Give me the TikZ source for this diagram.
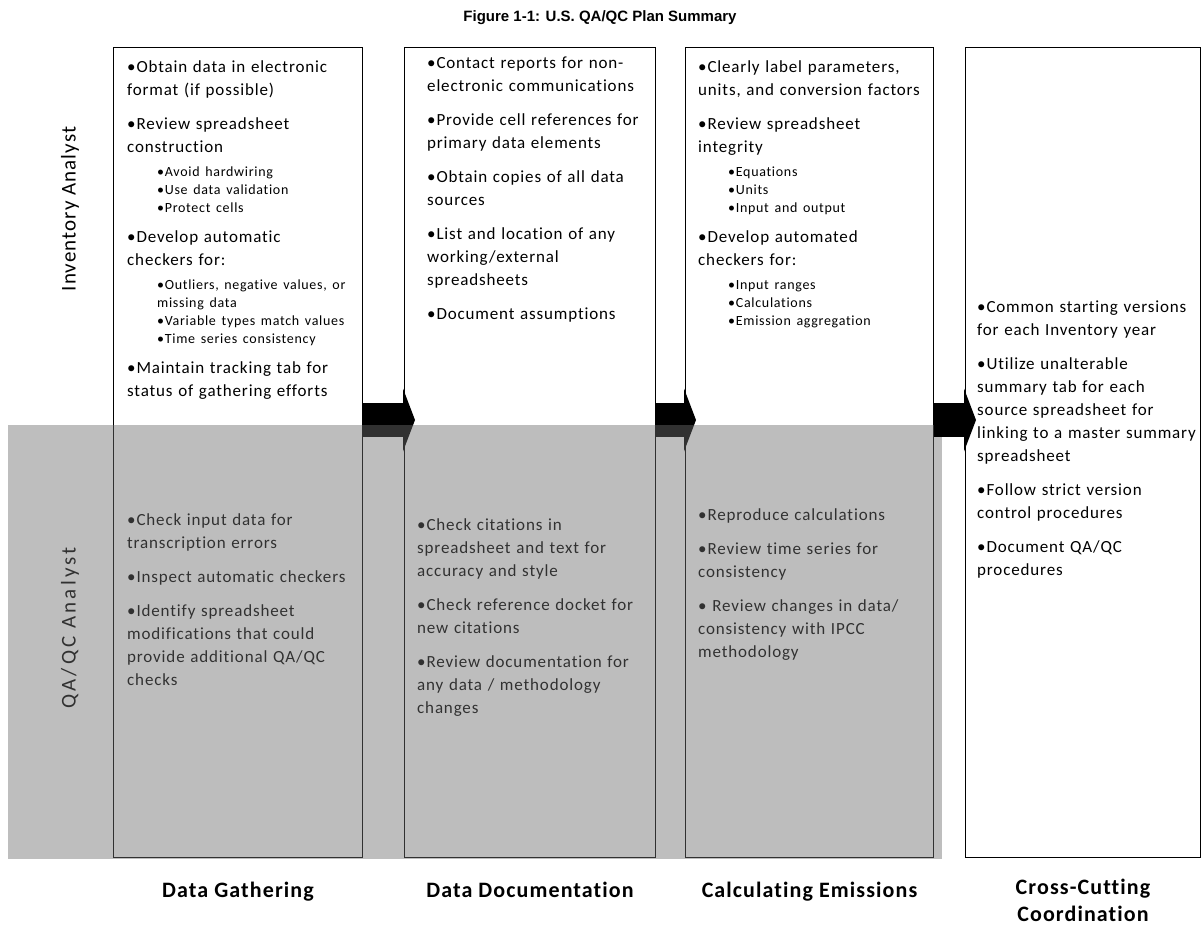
\documentclass[tikz,border=0pt]{standalone}
\usepackage{fontspec}
\setmainfont{Carlito}[LetterSpace=5, Ligatures=NoCommon]
\newfontfamily\headfont{Liberation Sans}
\usetikzlibrary{positioning, calc, arrows.meta}
\definecolor{bandGray}{RGB}{110,110,110}
\newcommand{\subitems}[1]{{\fontsize{14}{18}\selectfont\leftskip=30pt\parskip=6pt #1\par}\vspace{-4pt}}

\begin{document}
\begin{tikzpicture}[x=1pt, y=-1pt,
    lane/.style={rectangle, draw=black, line width=1pt, fill=white, anchor=north west,
                 minimum height=810pt, inner sep=0pt},
    body/.style={anchor=north west, inner sep=0pt, text width=290pt, align=left,
                 font={\fontsize{17}{23}\selectfont\parskip=11pt}},
    phase/.style={font={\fontsize{22}{27}\selectfont\bfseries}, align=center, inner sep=0pt},
    role/.style={font={\fontsize{21}{25}\selectfont}, rotate=90, inner sep=0pt},
    flow/.style={line width=34pt, -{Triangle[length=12pt 0 0, width=63pt 0 0, line width=0pt 0 0]}},
    band/.style={fill=bandGray, fill opacity=0.45, draw=none}
]
    \useasboundingbox (0,0) rectangle (1202,926);

    % Title
    \node[font={\headfont\bfseries\fontsize{15}{18}\selectfont}, inner sep=0pt] (title) at (600,18) {Figure 1-1: U.S. QA/QC Plan Summary};

    % Phase lanes
    \node[lane, minimum width=249pt] (dg) at (113,47) {};
    \node[lane, minimum width=251pt] (dd) at (404,47) {};
    \node[lane, minimum width=248pt] (ce) at (685,47) {};
    \coordinate (ay) at (0,420);

    % Inventory analyst tasks
    \node[body] (dgtop) at (127,60) {%
        •Obtain data in electronic\\format (if possible)\par
        •Review spreadsheet\\construction\par
        \subitems{•Avoid hardwiring\\•Use data validation\\•Protect cells}
        •Develop automatic\\checkers for:\par
        \subitems{•Outliers, negative values, or\\missing data\\•Variable types match values\\•Time series consistency}
        •Maintain tracking tab for\\status of gathering efforts};
    \node[body] (ddtop) at (427,57) {%
        •Contact reports for non-\\electronic communications\par
        •Provide cell references for\\primary data elements\par
        •Obtain copies of all data\\sources\par
        •List and location of any\\working/external\\spreadsheets\par
        •Document assumptions};
    \node[body] (cetop) at (698,60) {%
        •Clearly label parameters,\\units, and conversion factors\par
        •Review spreadsheet\\integrity\par
        \subitems{•Equations\\•Units\\•Input and output}
        •Develop automated\\checkers for:\par
        \subitems{•Input ranges\\•Calculations\\•Emission aggregation}};

    % QA/QC analyst tasks
    \node[body] (dglow) at (127,513) {%
        •Check input data for\\transcription errors\par
        •Inspect automatic checkers\par
        •Identify spreadsheet\\modifications that could\\provide additional QA/QC\\checks};
    \node[body] (ddlow) at (417,518) {%
        •Check citations in\\spreadsheet and text for\\accuracy and style\par
        •Check reference docket for\\new citations\par
        •Review documentation for\\any data / methodology\\changes};
    \node[body] (celow) at (698,508) {%
        •Reproduce calculations\par
        •Review time series for\\consistency\par
        • Review changes in data/\\consistency with IPCC\\methodology};

    % Arrows between phases
    \draw[flow] (dg.east |- ay) -- ($(dd.west |- ay)+(11,0)$);
    \draw[flow] (dd.east |- ay) -- ($(ce.west |- ay)+(11,0)$);

    % Roles
    \node[role] (inv) at (70,209) {Inventory Analyst};
    \node[role] (qa) at (70,628) {\addfontfeatures{LetterSpace=15}QA/QC Analyst};

    % QA/QC band
    \fill[band] (8,425) rectangle (942,859);

    % Cross-cutting lane
    \node[lane, minimum width=235pt] (cc) at (965,47) {};
    \node[body] (cctxt) at (977,301) {%
        •Common starting versions\\for each Inventory year\par
        •Utilize unalterable\\summary tab for each\\source spreadsheet for\\linking to a master summary\\spreadsheet\par
        •Follow strict version\\control procedures\par
        •Document QA/QC\\procedures};
    \draw[flow] (ce.east |- ay) -- ($(cc.west |- ay)+(11,0)$);

    % Phase names
    \node[phase, anchor=north, below=24pt of dg] (dgname) {Data Gathering};
    \node[phase, anchor=north, below=24pt of dd] (ddname) {Data Documentation};
    \node[phase, anchor=north, below=24pt of ce] (cename) {Calculating Emissions};
    \node[phase, anchor=north, below=21pt of cc] (ccname) {Cross-Cutting\\Coordination};
\end{tikzpicture}
\end{document}
